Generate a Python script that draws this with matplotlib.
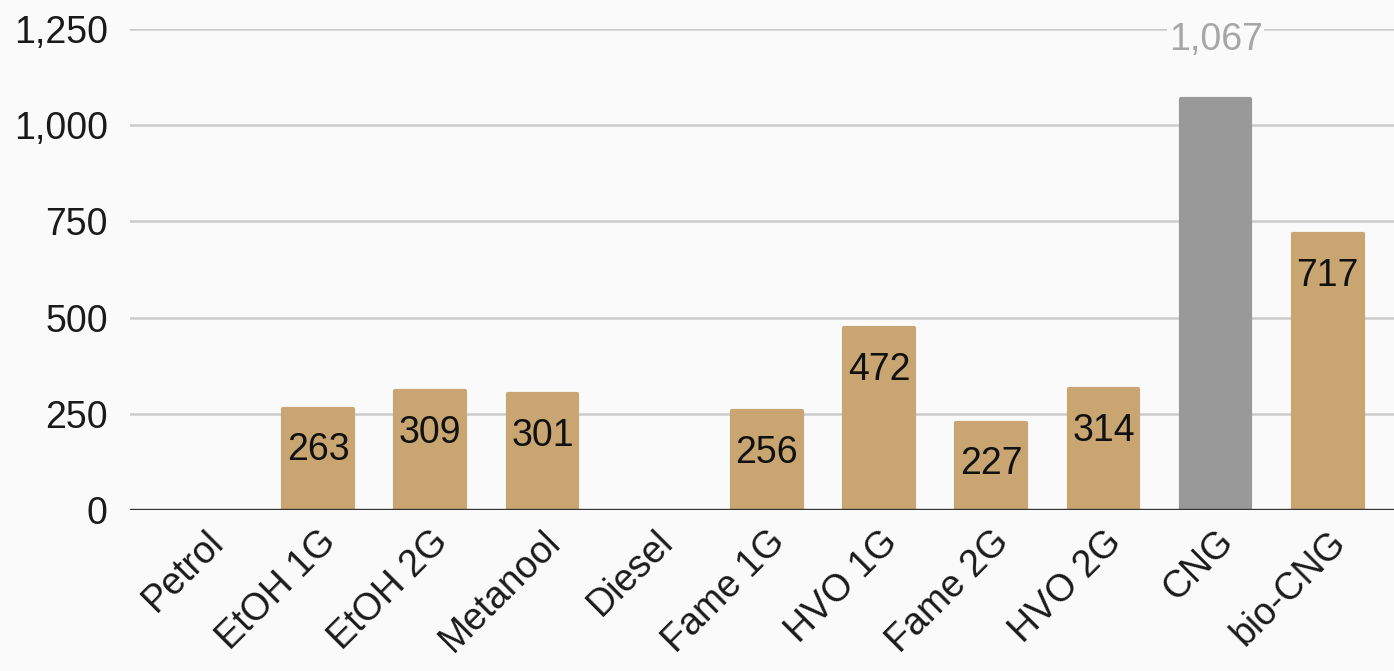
import matplotlib.pyplot as plt
from matplotlib.ticker import FuncFormatter

plt.rcParams['font.family'] = ['Liberation Sans', 'DejaVu Sans']

fuels = ['Petrol', 'EtOH 1G', 'EtOH 2G', 'Metanool', 'Diesel', 'Fame 1G',
         'HVO 1G', 'Fame 2G', 'HVO 2G', 'CNG', 'bio-CNG']
values = [0, 263, 309, 301, 0, 256, 472, 227, 314, 1067, 717]
colors = ['#c9a572'] * 9 + ['#999999', '#c9a572']

bg = '#fafafa'
fig = plt.figure(figsize=(13.94, 6.71), dpi=100, facecolor=bg)
ax = fig.add_axes([0.0933, 0.24, 0.9067, 0.7168], facecolor=bg)

x = list(range(len(fuels)))
# thick round-joined edge in the fill colour softens the bar corners
edge_w = [0 if v == 0 else 3 for v in values]
bars = ax.bar(x, values, width=0.62, color=colors, edgecolor=colors,
              linewidth=edge_w, joinstyle='round', zorder=3)

for rect, v in zip(bars, values):
    if v == 0:
        continue
    cx = rect.get_x() + rect.get_width() / 2
    if v > 1000:
        # tallest bar gets its label above, in grey
        ax.annotate(f'{v:,}', (cx, v), xytext=(0, 43), textcoords='offset points',
                    ha='center', va='center', fontsize=27, color='#a6a6a6', zorder=4,
                    bbox=dict(boxstyle='square,pad=0.05', fc=bg, ec='none'))
    else:
        ax.annotate(f'{v:,}', (cx, v), xytext=(0, -17), textcoords='offset points',
                    ha='center', va='top', fontsize=27, color='#111111', zorder=4)

ax.set_xlim(-0.675, 10.59)
ax.set_ylim(0, 1250)
ax.set_yticks([0, 250, 500, 750, 1000, 1250])
ax.yaxis.set_major_formatter(FuncFormatter(lambda v, p: f'{int(v):,}'))
ax.grid(axis='y', color='#cccccc', linewidth=1.8, zorder=0)
ax.axhline(0, color='#333333', linewidth=2.4, zorder=5)

ax.set_xticks(x)
ax.set_xticklabels(fuels, rotation=45, ha='right', rotation_mode='anchor')
ax.tick_params(axis='both', length=0, labelsize=27, colors='#1a1a1a')
ax.tick_params(axis='y', pad=16)
ax.tick_params(axis='x', pad=10)

for s in ax.spines.values():
    s.set_visible(False)

fig.savefig('out.png', dpi=100, facecolor=bg)
